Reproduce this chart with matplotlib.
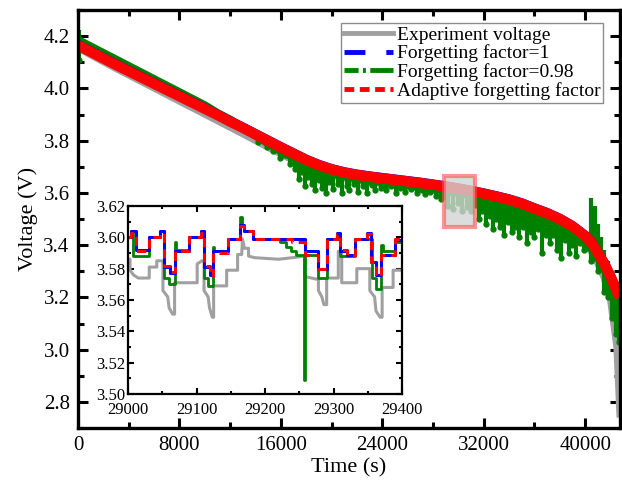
import numpy as np
import matplotlib
matplotlib.use('Agg')
import matplotlib.pyplot as plt
from matplotlib.lines import Line2D
from matplotlib.patches import Rectangle
from matplotlib.ticker import MultipleLocator, FormatStrFormatter

plt.rcParams['font.family'] = ['Liberation Serif', 'DejaVu Serif']

# ---- full discharge (s, V) ----
t_main = [0, 1000, 2000, 3000, 4000, 5000, 6000, 7000, 8000, 9000, 10000,
          11000, 12000, 13000, 14000, 15000, 16000, 17000, 18000, 19000, 20000,
          21000, 22000, 23000, 24000, 25000, 26000, 27000, 28000, 29000, 30000,
          31000, 32000, 33000, 34000, 35000, 36000, 37000, 38000, 39000, 40000,
          40500, 41000, 41500, 42000, 42500, 42750]
v_exp = [4.155, 4.128, 4.102, 4.076, 4.051, 4.026, 4.001, 3.976, 3.951, 3.926, 3.901,
         3.876, 3.851, 3.826, 3.800, 3.774, 3.749, 3.724, 3.700, 3.682, 3.668,
         3.657, 3.648, 3.641, 3.635, 3.629, 3.623, 3.617, 3.610, 3.603, 3.595,
         3.586, 3.576, 3.565, 3.553, 3.538, 3.518, 3.499, 3.476, 3.446, 3.405,
         3.375, 3.330, 3.275, 3.190, 3.010, 2.740]
v_ff1 = [4.167, 4.142, 4.117, 4.092, 4.068, 4.044, 4.020, 3.996, 3.972, 3.948, 3.924,
         3.900, 3.875, 3.851, 3.826, 3.801, 3.776, 3.752, 3.728, 3.708, 3.692,
         3.680, 3.671, 3.664, 3.658, 3.652, 3.646, 3.640, 3.633, 3.626, 3.618,
         3.609, 3.599, 3.588, 3.576, 3.561, 3.542, 3.524, 3.502, 3.474, 3.437,
         3.412, 3.372, 3.332, 3.282, 3.227, 3.202]
v_ff098 = [4.185, 4.160, 4.135, 4.110, 4.085, 4.060, 4.035, 4.010, 3.985, 3.960, 3.935,
           3.905, 3.880, 3.850, 3.820, 3.790, 3.760, 3.735, 3.710, 3.690, 3.675,
           3.665, 3.655, 3.648, 3.642, 3.636, 3.630, 3.624, 3.617, 3.610, 3.602,
           3.593, 3.583, 3.572, 3.560, 3.545, 3.527, 3.508, 3.486, 3.458, 3.420,
           3.395, 3.355, 3.315, 3.265, 3.210, 3.180]
v_aff = [4.165, 4.140, 4.115, 4.090, 4.066, 4.042, 4.018, 3.994, 3.970, 3.946, 3.922,
         3.898, 3.873, 3.849, 3.824, 3.799, 3.774, 3.750, 3.726, 3.706, 3.690,
         3.678, 3.669, 3.662, 3.656, 3.650, 3.644, 3.638, 3.631, 3.624, 3.616,
         3.607, 3.597, 3.586, 3.574, 3.559, 3.540, 3.522, 3.500, 3.472, 3.435,
         3.410, 3.370, 3.330, 3.280, 3.225, 3.200]

# scattered excursions of the 0.98 estimate (time, lowest, highest)
spike_t = [100, 14200, 14900, 15400, 15900, 16300, 16700, 17100, 17400, 17650, 17900,
           18150, 18450, 18700, 19000, 19250, 19600, 19800, 20100, 20500, 20800,
           21200, 21400, 21800, 22100, 22500, 22800, 23200, 23400, 23900, 24300,
           24700, 25100, 25400, 25800, 26300, 26700, 27100, 27400, 27800, 28200,
           28600, 28900, 29200, 29600, 30000, 30300, 30700, 31000, 31300, 31600,
           31900, 32200, 32500, 32700, 33000, 33300, 33600, 33900, 34200, 34500,
           34800, 35100, 35400, 35700, 36000, 36300, 36600, 36900, 37200, 37500,
           37800, 38100, 38400, 38700, 39000, 39300, 39600, 39900, 40200, 40450,
           40600, 40800, 41000, 41250, 41500, 41800, 42100, 42400, 42650]
spike_lo = [4.11, 3.795, 3.775, 3.76, 3.735, 3.745, 3.71, 3.69, 3.655, 3.68, 3.625,
            3.66, 3.635, 3.61, 3.65, 3.62, 3.60, 3.64, 3.615, 3.635, 3.60,
            3.625, 3.61, 3.635, 3.605, 3.625, 3.60, 3.63, 3.61, 3.62, 3.61,
            3.625, 3.60, 3.62, 3.605, 3.615, 3.60, 3.61, 3.595, 3.605, 3.59,
            3.575, 3.59, 3.55, 3.54, 3.56, 3.53, 3.545, 3.53, 3.555, 3.50,
            3.53, 3.48, 3.51, 3.46, 3.50, 3.47, 3.44, 3.49, 3.45, 3.47,
            3.43, 3.47, 3.41, 3.45, 3.43, 3.46, 3.37, 3.44, 3.41, 3.44,
            3.38, 3.35, 3.42, 3.37, 3.40, 3.36, 3.41, 3.38, 3.39, 3.34,
            3.36, 3.35, 3.30, 3.31, 3.22, 3.20, 3.12, 3.06, 3.03]
spike_hi = [4.225, 3.81, 3.795, 3.785, 3.77, 3.76, 3.75, 3.74, 3.735, 3.73, 3.72,
            3.715, 3.71, 3.70, 3.695, 3.69, 3.69, 3.685, 3.68, 3.675, 3.67,
            3.67, 3.665, 3.66, 3.66, 3.655, 3.655, 3.65, 3.65, 3.645, 3.645,
            3.64, 3.64, 3.64, 3.635, 3.63, 3.63, 3.63, 3.625, 3.62, 3.62,
            3.615, 3.615, 3.61, 3.61, 3.605, 3.60, 3.60, 3.595, 3.59, 3.59,
            3.585, 3.585, 3.58, 3.58, 3.575, 3.57, 3.57, 3.56, 3.56, 3.555,
            3.55, 3.545, 3.54, 3.535, 3.53, 3.52, 3.515, 3.51, 3.505, 3.495,
            3.49, 3.485, 3.475, 3.465, 3.46, 3.45, 3.44, 3.43, 3.415, 3.58,
            3.51, 3.55, 3.48, 3.43, 3.38, 3.34, 3.28, 3.23, 3.21]

# zoom window marked on the main curve
box_t = (28900, 31350)
box_v = (3.47, 3.665)

# ---- detail 29000-29400 s ----
ins_t_exp = [29000, 29003, 29003, 29008, 29015, 29031, 29031, 29042, 29042, 29051,
             29051, 29058, 29060, 29065, 29068, 29068, 29101, 29101, 29108, 29111,
             29111, 29117, 29119, 29123, 29125, 29125, 29144, 29144, 29160, 29160,
             29166, 29167, 29170, 29176, 29176, 29185, 29220, 29240, 29258, 29258,
             29278, 29278, 29283, 29286, 29290, 29290, 29307, 29307, 29312, 29312,
             29334, 29334, 29353, 29353, 29360, 29362, 29368, 29371, 29371, 29387,
             29387, 29400]
ins_v_exp = [3.586, 3.586, 3.579, 3.576, 3.574, 3.574, 3.581, 3.581, 3.585, 3.585,
             3.566, 3.562, 3.555, 3.551, 3.551, 3.571, 3.571, 3.583, 3.585, 3.585,
             3.566, 3.562, 3.555, 3.549, 3.549, 3.569, 3.569, 3.579, 3.579, 3.589,
             3.589, 3.599, 3.593, 3.593, 3.588, 3.587, 3.586, 3.587, 3.588, 3.575,
             3.573, 3.566, 3.562, 3.557, 3.557, 3.574, 3.574, 3.591, 3.591, 3.571,
             3.571, 3.580, 3.580, 3.566, 3.562, 3.553, 3.549, 3.549, 3.568, 3.568,
             3.579, 3.579]

ins_t_ff1 = [29000, 29004, 29011, 29031, 29047, 29052, 29061, 29068, 29089, 29106,
             29111, 29119, 29124, 29146, 29163, 29169, 29183, 29258, 29278, 29290,
             29305, 29310, 29320, 29332, 29349, 29355, 29362, 29370, 29390, 29400]
ins_v_ff1 = [3.600, 3.604, 3.592, 3.600, 3.604, 3.581, 3.577, 3.591, 3.600, 3.604,
             3.581, 3.576, 3.591, 3.599, 3.608, 3.604, 3.599, 3.591, 3.580, 3.599,
             3.603, 3.591, 3.589, 3.599, 3.603, 3.584, 3.576, 3.589, 3.598, 3.598]

ins_t_aff = [29000, 29004, 29011, 29031, 29047, 29052, 29061, 29068, 29089, 29106,
             29111, 29119, 29124, 29146, 29163, 29169, 29183, 29240, 29258, 29278,
             29290, 29305, 29310, 29320, 29332, 29349, 29355, 29362, 29370, 29390, 29400]
ins_v_aff = [3.600, 3.603, 3.591, 3.600, 3.603, 3.582, 3.578, 3.591, 3.600, 3.603,
             3.582, 3.575, 3.590, 3.599, 3.607, 3.604, 3.599, 3.597, 3.589, 3.580,
             3.599, 3.602, 3.592, 3.589, 3.599, 3.602, 3.584, 3.575, 3.589, 3.599, 3.599]

ins_t_ff098 = [29000, 29004, 29008, 29031, 29047, 29052, 29060, 29068, 29070, 29089,
               29106, 29111, 29117, 29124, 29126, 29146, 29163, 29166, 29170, 29183,
               29222, 29230, 29238, 29245, 29257, 29258, 29278, 29290, 29310, 29332,
               29356, 29362, 29370, 29372, 29390, 29400]
ins_v_ff098 = [3.600, 3.604, 3.588, 3.600, 3.604, 3.574, 3.570, 3.597, 3.592, 3.600,
               3.604, 3.574, 3.569, 3.594, 3.591, 3.599, 3.613, 3.607, 3.604, 3.599,
               3.597, 3.594, 3.591, 3.589, 3.509, 3.589, 3.574, 3.599, 3.588, 3.599,
               3.574, 3.567, 3.595, 3.591, 3.597, 3.597]

c_exp = '#a0a0a0'
c_ff1 = '#0000ff'
c_ff098 = '#008000'
c_aff = '#ff0000'

fig = plt.figure(figsize=(6.22, 4.8), dpi=100)
ax = fig.add_axes([0.1254, 0.1083, 0.8714, 0.8708])

ax.plot(t_main, v_exp, color=c_exp, lw=5, solid_capstyle='butt')
ax.vlines(spike_t, spike_lo, spike_hi, color=c_ff098, lw=3)
ax.plot(spike_t, spike_lo, 'o', color=c_ff098, ms=3.5)
ax.plot(t_main, v_ff098, color=c_ff098, lw=6, solid_capstyle='butt')
ax.plot(t_main, v_ff1, color=c_ff1, lw=7, solid_capstyle='butt')
ax.plot(t_main, v_aff, color=c_aff, lw=7.5, solid_capstyle='butt')

ax.add_patch(Rectangle((box_t[0], box_v[0]), box_t[1] - box_t[0], box_v[1] - box_v[0],
                       facecolor='#d4d4d4', alpha=0.8, edgecolor='none', zorder=5))
ax.add_patch(Rectangle((box_t[0], box_v[0]), box_t[1] - box_t[0], box_v[1] - box_v[0],
                       facecolor='none', edgecolor=(1, 0.3, 0.3, 0.6), lw=3, zorder=6))

ax.set_xlim(0, 42750)
ax.set_ylim(2.7, 4.3)
ax.xaxis.set_major_locator(MultipleLocator(8000))
ax.xaxis.set_minor_locator(MultipleLocator(4000))
ax.yaxis.set_major_locator(MultipleLocator(0.2))
ax.yaxis.set_minor_locator(MultipleLocator(0.1))
ax.tick_params(which='both', direction='in', top=True, right=True, width=2.2, labelsize=15)
ax.tick_params(which='major', length=7, pad=6)
ax.tick_params(which='minor', length=4)
for s in ax.spines.values():
    s.set_linewidth(2.4)
ax.set_xlabel('Time (s)', fontsize=16, labelpad=2)
ax.set_ylabel('Voltage (V)', fontsize=16, labelpad=4)

handles = [
    Line2D([], [], color=c_exp, lw=3.5),
    Line2D([], [], color=c_ff1, lw=3.5, dashes=(4.3, 4.3, 1.1, 0.01)),
    Line2D([], [], color=c_ff098, lw=3.5, dashes=(2.9, 0.9, 0.6, 0.9, 4, 0.01)),
    Line2D([], [], color=c_aff, lw=3.5, dashes=(2, 1.15)),
]
labels = ['Experiment voltage', 'Forgetting factor=1',
          'Forgetting factor=0.98', 'Adaptive forgetting factor']
leg = ax.legend(handles, labels, loc='upper right', bbox_to_anchor=(0.969, 0.969),
                fontsize=14, frameon=True, fancybox=False, handlelength=2.5,
                handletextpad=0.2, labelspacing=0.05, borderpad=0.15, borderaxespad=0)
leg.get_frame().set_edgecolor('#707070')
leg.get_frame().set_linewidth(1.0)

# inset with the pulse detail
axi = fig.add_axes([0.2058, 0.1792, 0.4405, 0.3917])
axi.plot(ins_t_exp, ins_v_exp, color=c_exp, lw=2.2)
axi.plot(ins_t_ff098, ins_v_ff098, color=c_ff098, lw=2.0, drawstyle='steps-post')
axi.plot(ins_t_ff1, ins_v_ff1, color=c_ff1, lw=2.2, drawstyle='steps-post')
axi.plot(ins_t_aff, ins_v_aff, color=c_aff, lw=2.2, drawstyle='steps-post', dashes=(3, 2))
axi.set_xlim(29000, 29400)
axi.set_ylim(3.50, 3.62)
axi.xaxis.set_major_locator(MultipleLocator(100))
axi.xaxis.set_minor_locator(MultipleLocator(50))
axi.yaxis.set_major_locator(MultipleLocator(0.02))
axi.yaxis.set_minor_locator(MultipleLocator(0.01))
axi.yaxis.set_major_formatter(FormatStrFormatter('%.2f'))
axi.tick_params(which='both', direction='in', top=True, right=True, width=1.5, labelsize=12)
axi.tick_params(which='major', length=4)
axi.tick_params(axis='y', which='major', pad=2)
axi.tick_params(axis='x', which='major', pad=6)
axi.tick_params(which='minor', length=2.5)
for s in axi.spines.values():
    s.set_linewidth(1.6)

fig.savefig('out.png', dpi=100)
